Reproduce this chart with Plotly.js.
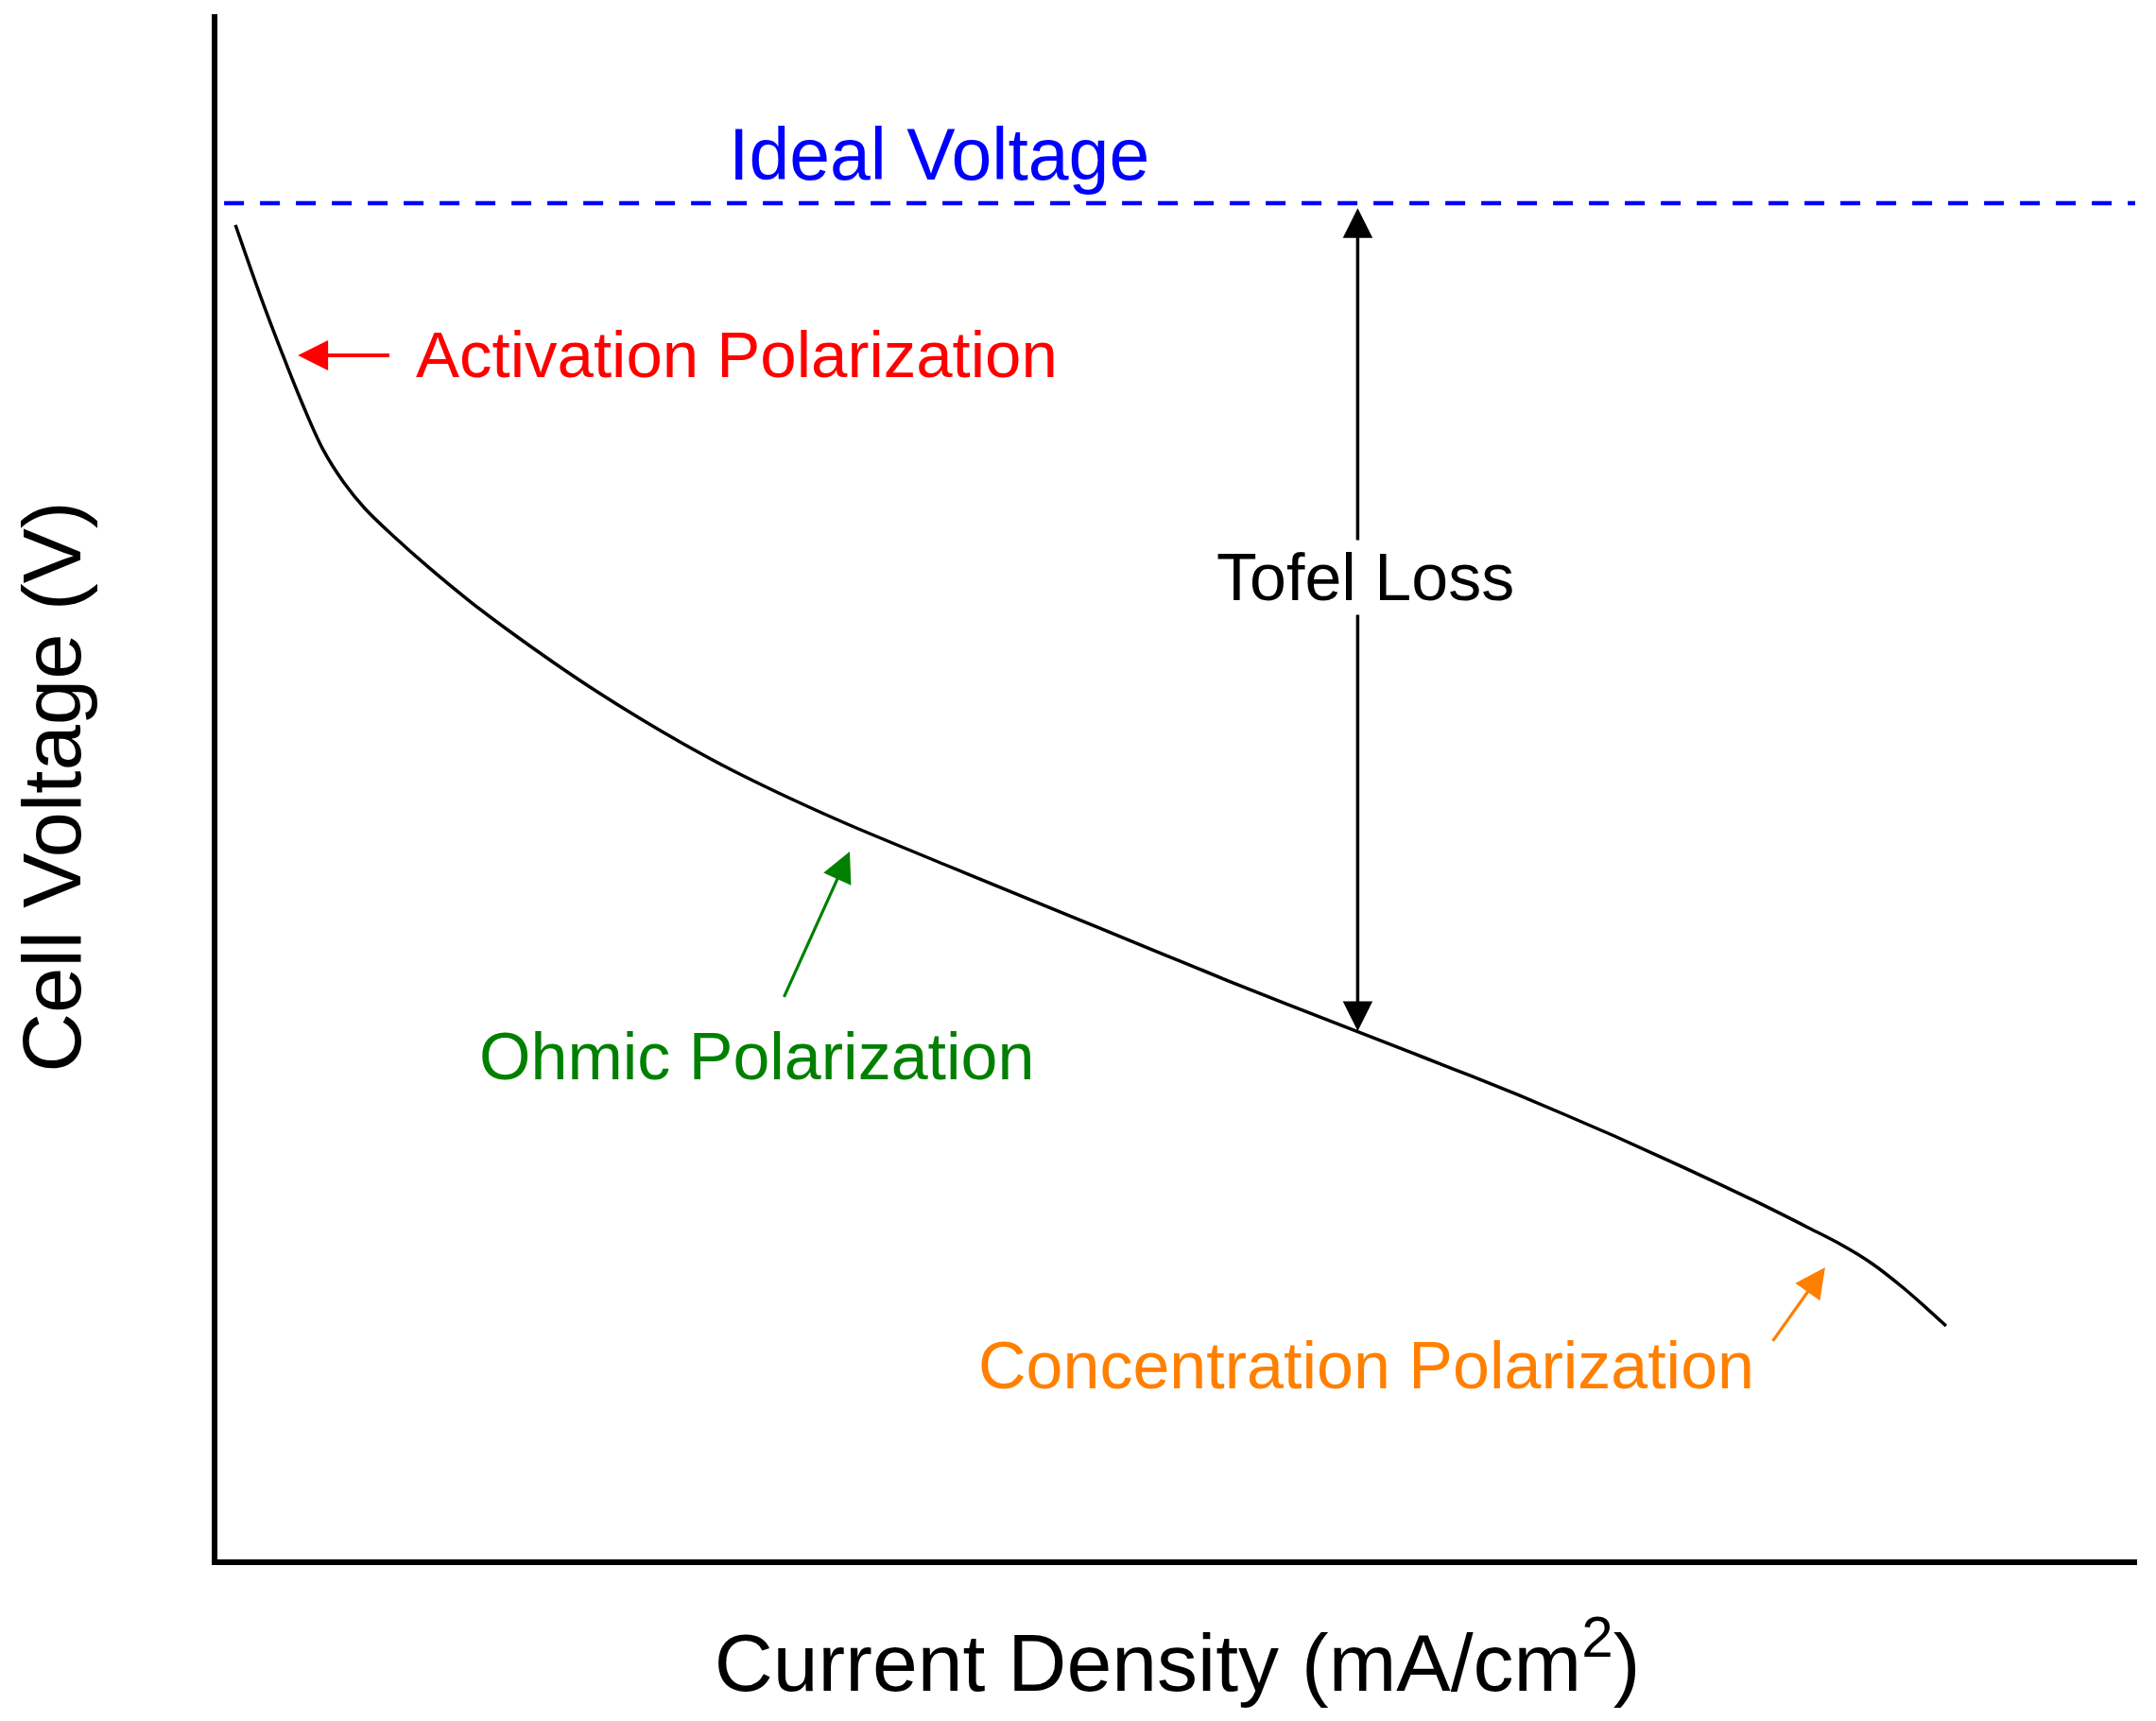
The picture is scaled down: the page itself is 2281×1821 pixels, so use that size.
<!DOCTYPE html>
<html>
<head>
<meta charset="utf-8">
<script src="https://cdn.plot.ly/plotly-3.0.1.min.js"></script>
<style>html,body{margin:0;padding:0;background:#fff;}#chart{width:2281px;height:1821px;}</style>
</head>
<body>
<div id="chart"></div>
<script>
// Polarization curve (schematic units: current density 0-100, cell voltage 0-1.3 V)
var currentDensity = [0.94, 2.22, 3.30, 4.38, 5.51, 6.60, 7.68, 9.21, 10.98, 13.20, 15.36, 17.58, 19.79, 21.96, 24.18, 26.39, 28.56, 30.77, 32.99, 37.91, 42.84, 47.76, 52.68, 59.43, 62.73, 65.24, 67.75, 70.26, 72.77, 75.28, 77.79, 80.31, 82.82, 84.59, 86.12, 87.84, 90.05];
var cellVoltage = [1.1227, 1.0638, 1.0177, 0.9740, 0.9335, 0.9056, 0.8842, 0.8603, 0.8349, 0.8054, 0.7792, 0.7538, 0.7299, 0.7080, 0.6870, 0.6675, 0.6500, 0.6333, 0.6174, 0.5844, 0.5518, 0.5192, 0.4866, 0.4437, 0.4230, 0.4071, 0.3908, 0.3737, 0.3562, 0.3379, 0.3192, 0.2998, 0.2795, 0.2648, 0.2497, 0.2282, 0.1964];

var idealVoltage = 1.141;
var idealSpan = [0.35, 99.9];

var xRange = [0, 100];
var yRange = [0, 1.3];

// Labels (anchor point of each text) and the point each label's arrow aims at
var labelText   = ["Ideal Voltage", "Activation Polarization", "Tofel Loss", "Ohmic Polarization", "Concentration Polarization"];
var labelX      = [37.59, 10.29, 59.80, 28.11, 80.11];
var labelY      = [1.182, 1.013, 0.826, 0.423, 0.163];
var labelXAnch  = ["center", "left", "center", "center", "right"];
var labelYAnch  = ["middle", "middle", "middle", "middle", "middle"];
var labelColor  = ["#0000ff", "#ff0000", "#000000", "#008000", "#ff8000"];
var labelSize   = [77, 69, 70, 70, 70];
var arrowTipX   = [null, 4.19, null, 32.94, 83.75];
var arrowTipY   = [null, 1.013, null, 0.5955, 0.2457];
var arrowGap    = [0, 27, 0, 26, 32];
var arrowWidth  = [0, 4, 0, 3.2, 3.2];

// Tofel loss double arrow
var tofelX = 59.40;
var tofelTop = 1.138;
var tofelBottom = 0.4445;

var FONT = '"Liberation Sans", Arial, sans-serif';

var traces = [
  {
    x: idealSpan, y: [idealVoltage, idealVoltage],
    type: 'scatter', mode: 'lines',
    line: {color: '#0000ff', width: 4.5, dash: '21px,17px'},
    hoverinfo: 'skip', showlegend: false
  },
  {
    x: currentDensity, y: cellVoltage,
    type: 'scatter', mode: 'lines',
    line: {color: '#000000', width: 3.5, shape: 'spline', smoothing: 1},
    showlegend: false
  }
];

var annotations = [];
// Tofel double arrow first so the label with white background covers it
annotations.push({
  x: tofelX, y: tofelBottom, ax: tofelX, ay: tofelTop,
  xref: 'x', yref: 'y', axref: 'x', ayref: 'y',
  text: '', showarrow: true, arrowside: 'end+start',
  arrowhead: 2, startarrowhead: 2, arrowsize: 1.8, startarrowsize: 1.8,
  arrowwidth: 3.5, arrowcolor: '#000000'
});
for (var j = 0; j < labelText.length; j++) {
  var a = {
    xref: 'x', yref: 'y',
    text: labelText[j],
    xanchor: labelXAnch[j], yanchor: labelYAnch[j],
    font: {family: FONT, size: labelSize[j], color: labelColor[j]},
    bgcolor: labelText[j] === 'Tofel Loss' ? '#ffffff' : 'rgba(0,0,0,0)',
    borderpad: 0
  };
  if (arrowTipX[j] !== null) {
    a.showarrow = true;
    a.x = arrowTipX[j]; a.y = arrowTipY[j];
    a.ax = labelX[j]; a.ay = labelY[j];
    a.axref = 'x'; a.ayref = 'y';
    a.arrowhead = 2; a.arrowsize = 6.4 / arrowWidth[j];
    a.arrowwidth = arrowWidth[j]; a.arrowcolor = labelColor[j];
    a.startstandoff = arrowGap[j];
  } else {
    a.showarrow = false;
    a.x = labelX[j]; a.y = labelY[j];
  }
  annotations.push(a);
}

var layout = {
  width: 2281, height: 1821,
  margin: {l: 230, r: 20, t: 15, b: 171, pad: 0},
  paper_bgcolor: '#ffffff', plot_bgcolor: '#ffffff',
  font: {family: FONT, color: '#000000'},
  showlegend: false,
  xaxis: {
    range: xRange, showline: true, linewidth: 6, linecolor: '#000000',
    showgrid: false, zeroline: false, ticks: '', showticklabels: false,
    automargin: false,
    title: {text: 'Current Density (mA/cm<sup>2</sup>)', font: {family: FONT, size: 86, color: '#000000'}, standoff: 76}
  },
  yaxis: {
    range: yRange, showline: true, linewidth: 6, linecolor: '#000000',
    showgrid: false, zeroline: false, ticks: '', showticklabels: false,
    automargin: false,
    title: {text: 'Cell Voltage (V)', font: {family: FONT, size: 87, color: '#000000'}, standoff: 112}
  },
  annotations: annotations
};

Plotly.newPlot('chart', traces, layout, {displayModeBar: false, staticPlot: true});
</script>
</body>
</html>
